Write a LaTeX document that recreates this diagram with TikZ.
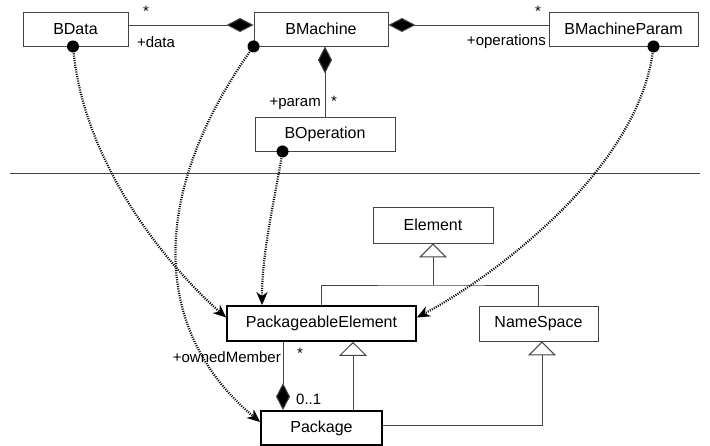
\documentclass[tikz,border=0pt]{standalone}
\usepackage{fontspec}
\setmainfont{Liberation Sans}
\usetikzlibrary{arrows.meta}
\definecolor{umlgray}{HTML}{444444}
\begin{document}
\begin{tikzpicture}[x=1pt,y=-1pt,
  cls/.style={draw=umlgray,line width=0.9pt,inner sep=0pt,minimum height=34pt,font=\fontsize{16}{18}\selectfont},
  maincls/.style={cls,draw=black,line width=1.7pt},
  lbl/.style={font=\fontsize{15}{17}\selectfont,inner sep=0pt},
  assoc/.style={draw=umlgray,line width=1pt},
  comp/.style={assoc,-{Diamond[length=27pt,width=14pt,fill=black]}},
  gen/.style={assoc,-{Triangle[open,length=14pt,width=28pt,fill=white]}},
  dep/.style={line width=2.2pt,dash pattern=on 1pt off 1.3pt,-{Stealth[length=13pt,width=11pt,inset=4pt]}},
  dot/.style={fill=black}]
  \useasboundingbox (0,0) rectangle (710,445);
  % upper part: B machine model
  \node[cls,minimum width=105pt] (bdata) at (75.5,29) {BData};
  \node[cls,minimum width=134pt] (bmachine) at (321,29) {BMachine};
  \node[cls,minimum width=149pt] (bmparam) at (623.5,29) {BMachineParam};
  \node[cls,minimum width=140pt] (bop) at (325,134) {BOperation};
  \draw[comp] ([yshift=4pt]bdata.east) -- ([yshift=4pt]bmachine.west);
  \draw[comp] ([yshift=4pt]bmparam.west) -- ([yshift=4pt]bmachine.east);
  \draw[comp] (bop.north) -- (bop.north |- bmachine.south);
  \node[lbl] (m1) at (146,11) {*};
  \node[lbl] (r1) at (156,42) {+data};
  \node[lbl] (m2) at (538,11) {*};
  \node[lbl,anchor=east] (r2) at (546,42) {+operations};
  \node[lbl,anchor=east] (r3) at (321,104) {+param};
  \node[lbl] (m3) at (334,101) {*};
  % separator
  \draw[umlgray,line width=1pt] (10,173) -- (700,173);
  % lower part: UML metamodel
  \node[cls,minimum width=120pt,minimum height=36pt] (element) at (433,225) {Element};
  \node[maincls,minimum width=189pt,minimum height=35pt] (pelem) at (321.5,323.5) {PackageableElement};
  \node[cls,minimum width=119pt,minimum height=35pt] (nspace) at (538.5,323.5) {NameSpace};
  \node[maincls,minimum width=121pt] (pkg) at (321.5,428) {Package};
  \coordinate (fork) at (433,285);
  \draw[gen] (fork) -- (element.south);
  \draw[assoc] (pelem.north) |- (fork) -| (nspace.north);
  \draw[gen] ([xshift=31.5pt]pkg.north) -- ([xshift=31.5pt]pkg.north |- pelem.south);
  \draw[gen] ([yshift=3pt]pkg.east) -| ([xshift=3.5pt]nspace.south);
  \draw[comp] ([xshift=-38.5pt]pelem.south) -- ([xshift=-38.5pt]pelem.south |- pkg.north);
  \node[lbl,anchor=east] (r4) at (281,357) {+ownedMember};
  \node[lbl] (m4) at (300,353) {*};
  \node[lbl,anchor=west] (m5) at (296,399) {0..1};
  % mapping links
  \coordinate (s1) at ([xshift=-2.5pt]bdata.south);
  \coordinate (s2) at (bmachine.south west);
  \coordinate (s3) at ([xshift=28pt]bop.south west);
  \coordinate (s4) at ([xshift=30pt]bmparam.south);
  \draw[dep] (s1) .. controls +(10,120) and +(-55,-48) .. ([yshift=6pt]pelem.west);
  \draw[dep] (s2) .. controls +(-104,144) and +(-111,-92) .. ([yshift=6pt]pkg.west);
  \draw[dep] (s3) .. controls +(-8,49) and +(0,-54) .. ([xshift=-59.5pt]pelem.north);
  \draw[dep] (s4) .. controls +(-13,124) and +(72,-38) .. ([yshift=6pt]pelem.east);
  \foreach \s in {s1,s2,s3,s4} \fill[dot] (\s) circle (6pt);
\end{tikzpicture}
\end{document}
